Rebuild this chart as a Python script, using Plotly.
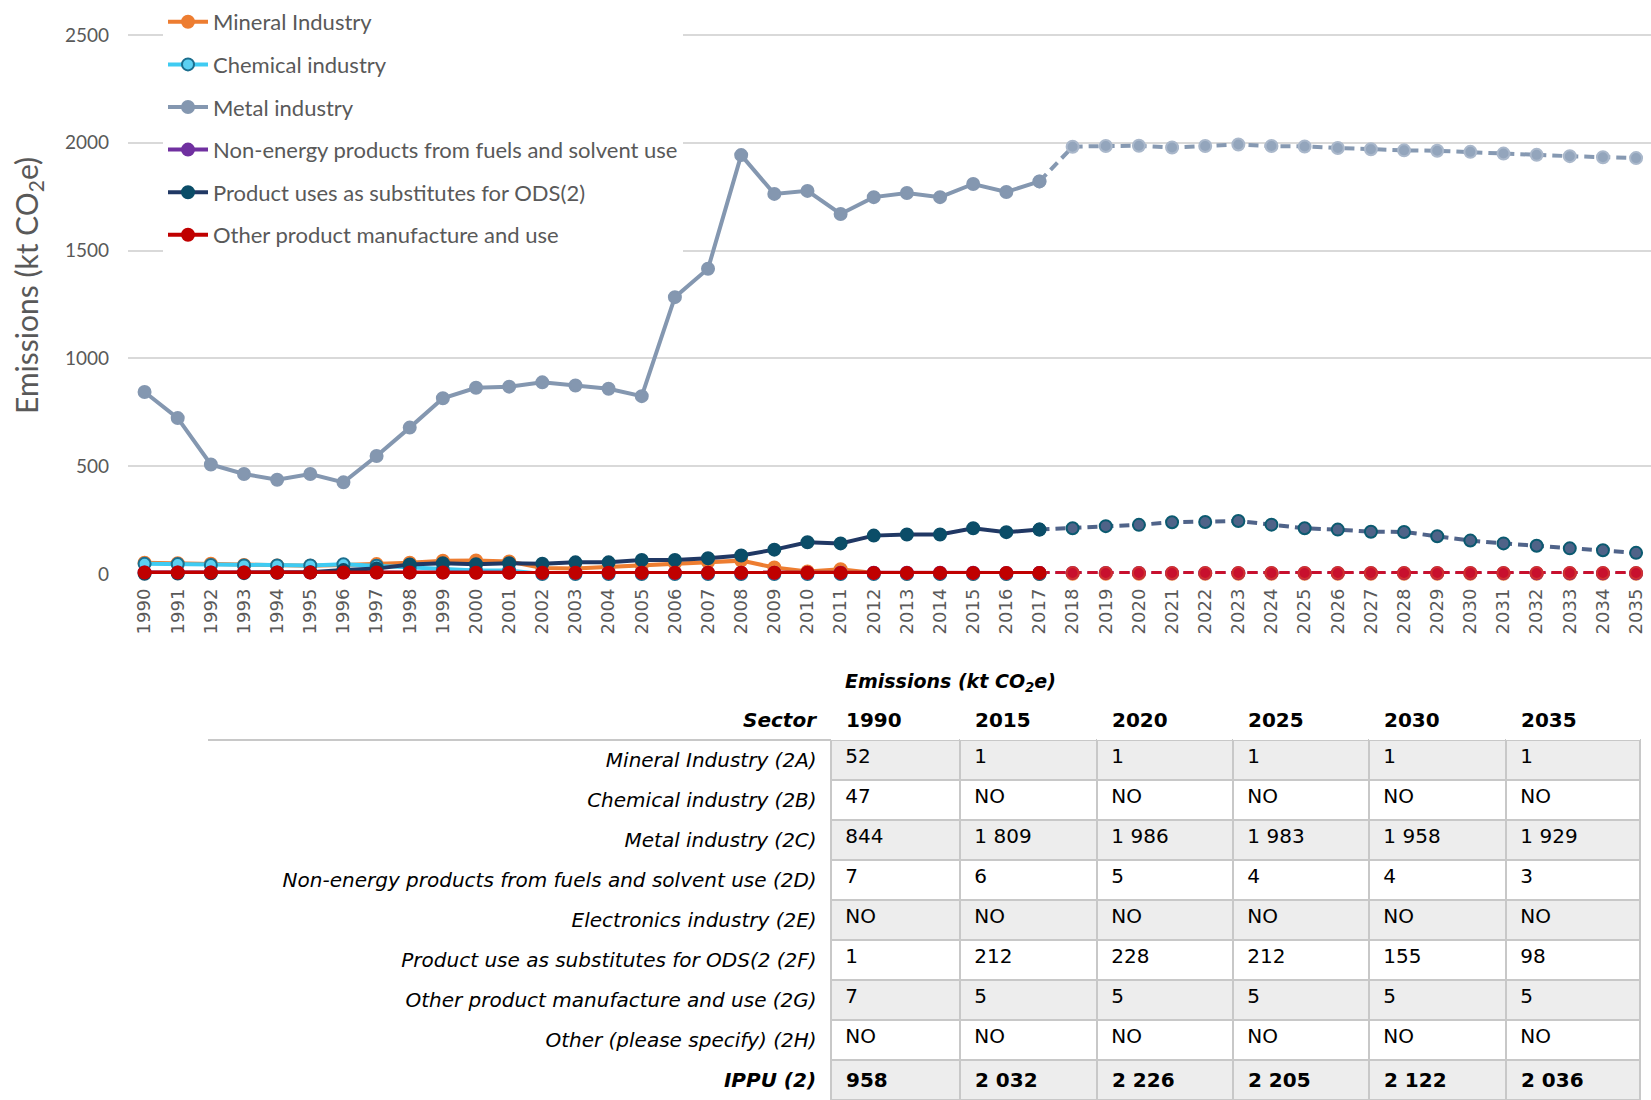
import plotly.graph_objects as go

# ---------------- data ----------------
years = list(range(1990, 2036))

mineral = [52, 50, 48, 42, 40, 38, 42, 46, 52, 62, 63, 58, 28, 25, 32, 40, 50, 56, 62, 30,
           12, 22, 5, 1, 2, 1, 1, 1, 1, 1, 1, 1, 1, 1, 1, 1, 1, 1, 1, 1,
           1, 1, 1, 1, 1, 1]
chemical = [47, 46, 42, 40, 40, 40, 45, 38, 28, 20, 16, 16, 0, 0, 0, 0, 0, 0, 0, 0,
            0, 0, 0, 0, 0, 0, 0, 0, None, None, None, None, None, None, None, None, None, None, None, None,
            None, None, None, None, None, None]
metal = [844, 723, 508, 464, 437, 464, 425, 547, 679, 815, 864, 869, 889, 874, 859, 825, 1284, 1416, 1943, 1763,
         1777, 1670, 1748, 1767, 1748, 1809, 1772, 1821, 1982, 1985, 1986, 1978, 1985, 1992, 1985, 1983, 1976, 1970, 1965, 1963,
         1958, 1950, 1944, 1938, 1933, 1929]
nonenergy = [7, 7, 7, 7, 7, 7, 7, 7, 7, 7, 7, 7, 7, 7, 7, 7, 6, 6, 6, 6,
             6, 6, 6, 6, 6, 6, 5, 5, 5, 5, 5, 4, 4, 4, 4, 4, 4, 4, 4, 4,
             4, 4, 3, 3, 3, 3]
ods = [1, 2, 3, 4, 6, 8, 18, 25, 44, 50, 45, 50, 48, 54, 54, 65, 65, 73, 86, 113,
       147, 142, 178, 183, 183, 212, 194, 206, 212, 222, 228, 240, 241, 246, 229, 212, 206, 196, 195, 175,
       155, 142, 131, 119, 110, 98]
other = [7, 7, 7, 7, 7, 7, 7, 7, 7, 7, 6, 6, 6, 6, 6, 6, 6, 6, 6, 6,
         6, 5, 5, 5, 5, 5, 5, 5, 5, 5, 5, 5, 5, 5, 5, 5, 5, 5, 5, 5,
         5, 5, 5, 5, 5, 5]

last_hist_year = 2017

series_names = ["Mineral Industry", "Chemical industry", "Metal industry",
                "Non-energy products from fuels and solvent use",
                "Product uses as substitutes for ODS(2)", "Other product manufacture and use"]

y_ticks = [0, 500, 1000, 1500, 2000, 2500]

# table data
table_years = ["1990", "2015", "2020", "2025", "2030", "2035"]
table_sectors = ["Mineral Industry (2A)", "Chemical industry (2B)", "Metal industry (2C)",
                 "Non-energy products from fuels and solvent use (2D)", "Electronics industry (2E)",
                 "Product use as substitutes for ODS(2 (2F)", "Other product manufacture and use (2G)",
                 "Other (please specify) (2H)", "IPPU (2)"]
t1990 = ["52", "47", "844", "7", "NO", "1", "7", "NO", "958"]
t2015 = ["1", "NO", "1 809", "6", "NO", "212", "5", "NO", "2 032"]
t2020 = ["1", "NO", "1 986", "5", "NO", "228", "5", "NO", "2 226"]
t2025 = ["1", "NO", "1 983", "4", "NO", "212", "5", "NO", "2 205"]
t2030 = ["1", "NO", "1 958", "4", "NO", "155", "5", "NO", "2 122"]
t2035 = ["1", "NO", "1 929", "3", "NO", "98", "5", "NO", "2 036"]

# ---------------- layout helpers ----------------
W, H = 1651, 1100
ML = 128
PW = W - ML


def px_x(p):
    return (p - ML) / PW


def px_y(p):
    return (H - p) / H


FONT = "Lato"
TFONT = "DejaVu Sans"

hist_style = [
    dict(line="#ED7D31", mfill="#ED7D31", mline="#ED7D31"),
    dict(line="#3FCBF2", mfill="#5CD0F2", mline="#1B6E8E"),
    dict(line="#8497B0", mfill="#8497B0", mline="#8497B0"),
    dict(line="#7030A0", mfill="#7030A0", mline="#7030A0"),
    dict(line="#203864", mfill="#0B4D68", mline="#0B4D68"),
    dict(line="#C00000", mfill="#C00000", mline="#C00000"),
]
proj_style = [
    dict(line="#ED7D31", mfill="#ED7D31", mline="#ED7D31"),
    dict(line="#3FCBF2", mfill="#5CD0F2", mline="#1B6E8E"),
    dict(line="#8699B2", mfill="#93A5BC", mline="#AAB8CB"),
    dict(line="#7030A0", mfill="#7030A0", mline="#7030A0"),
    dict(line="#50648A", mfill="#4F6388", mline="#0B5A70"),
    dict(line="#C8102E", mfill="#C8102E", mline="#D03030"),
]

all_series = [mineral, chemical, metal, nonenergy, ods, other]
split = years.index(last_hist_year)

fig = go.Figure()

# projections first (historical draws on top at the junction)
for name, vals, st in zip(series_names, all_series, proj_style):
    px_ = years[split:]
    py_ = vals[split:]
    if all(v is None for v in py_[1:]):
        continue
    fig.add_trace(go.Scatter(
        x=px_, y=py_, mode="lines+markers", name=name, showlegend=False,
        line=dict(color=st["line"], width=4, dash="10px,6px"),
        marker=dict(size=12, color=st["mfill"], line=dict(color=st["mline"], width=2)),
        cliponaxis=False))

for i, (name, vals, st) in enumerate(zip(series_names, all_series, hist_style)):
    fig.add_trace(go.Scatter(
        x=years[:split + 1], y=vals[:split + 1], mode="lines+markers", name=name,
        legendgroup=f"g{i}",
        line=dict(color=st["line"], width=4),
        marker=dict(size=12, color=st["mfill"], line=dict(color=st["mline"], width=2)),
        cliponaxis=False))

# ---------------- table ----------------
sector_cells = [f"<i>{s}\u00a0</i>" for s in table_sectors[:-1]] + [f"<b><i>{table_sectors[-1]}\u00a0</i></b>"]


def col(vals):
    return [f"\u00a0{v}" for v in vals[:-1]] + [f"<b>\u00a0{vals[-1]}</b>"]


data_cols = [t1990, t2015, t2020, t2025, t2030, t2035]
gray, white = "#EDEDED", "#FFFFFF"
row_fill = [gray if r % 2 == 0 else white for r in range(len(table_sectors))]

fig.add_trace(go.Table(
    domain=dict(x=[px_x(208), px_x(1640)], y=[0, px_y(700)]),
    columnwidth=[623, 129, 137, 136, 136, 137, 134],
    header=dict(
        values=["<b><i>Sector\u00a0</i></b>"] + [f"<b>\u00a0{y}</b>" for y in table_years],
        align=["right"] + ["left"] * 6,
        fill_color="white", line=dict(color="white", width=0),
        font=dict(family=TFONT, size=20, color="#000000"), height=40),
    cells=dict(
        values=[sector_cells] + [col(c) for c in data_cols],
        align=["right"] + ["left"] * 6,
        fill_color=[[white] * len(table_sectors)] + [row_fill] * 6,
        line=dict(color=["white"] + ["#C8C8C8"] * 6, width=2),
        font=dict(family=TFONT, size=20, color="#000000"), height=40),
))

fig.add_shape(type="line", xref="paper", yref="paper",
              x0=px_x(208), x1=px_x(831), y0=px_y(740), y1=px_y(740),
              line=dict(color="#C8C8C8", width=2))

fig.add_annotation(text="<b><i>Emissions (kt CO<sub>2</sub>e)</i></b>", xref="paper", yref="paper",
                   x=px_x(843), y=px_y(683), xanchor="left", yanchor="middle",
                   showarrow=False, font=dict(family=TFONT, size=19, color="#000000"))

fig.add_annotation(text="Emissions (kt CO<sub>2</sub>e)", xref="paper", yref="paper",
                   x=px_x(28), y=px_y(285), xanchor="center", yanchor="middle",
                   textangle=-90, showarrow=False, font=dict(family=FONT, size=30, color="#595959"))

# y range so that 2500 sits at pixel 35 and 0 at pixel 574 with no top margin
plot_top, plot_bot = 0, 574
y_max = 2500 * (plot_bot - plot_top) / (plot_bot - 35)

fig.update_layout(
    width=W, height=H,
    margin=dict(l=ML, r=0, t=0, b=0, autoexpand=False),
    paper_bgcolor="white", plot_bgcolor="white",
    font=dict(family=FONT, color="#595959"),
    showlegend=True,
    legend=dict(x=px_x(163), y=px_y(1), xanchor="left", yanchor="top",
                bgcolor="white", borderwidth=0, traceorder="grouped", tracegroupgap=11,
                itemwidth=40, font=dict(family=FONT, size=22, color="#595959")),
    xaxis=dict(range=[1989.5, 2035.45], tickmode="array", tickvals=years,
               ticktext=[str(y) for y in years], tickangle=-90,
               showgrid=False, zeroline=False, showline=False, ticks="",
               ticklabelstandoff=10, automargin=False,
               tickfont=dict(family=TFONT, size=18, color="#595959"),
               anchor="y"),
    yaxis=dict(range=[0, y_max], tickmode="array", tickvals=y_ticks,
               showgrid=True, gridcolor="#D9D9D9", gridwidth=2, zeroline=False,
               showline=False, ticks="", ticklabelstandoff=18, automargin=False,
               tickfont=dict(family=FONT, size=19, color="#595959"),
               domain=[px_y(plot_bot), 1], anchor="x"),
)

fig.write_html("out.html", config={"displayModeBar": False},
               post_script="document.body.style.margin='0';document.body.style.overflow='hidden';")
